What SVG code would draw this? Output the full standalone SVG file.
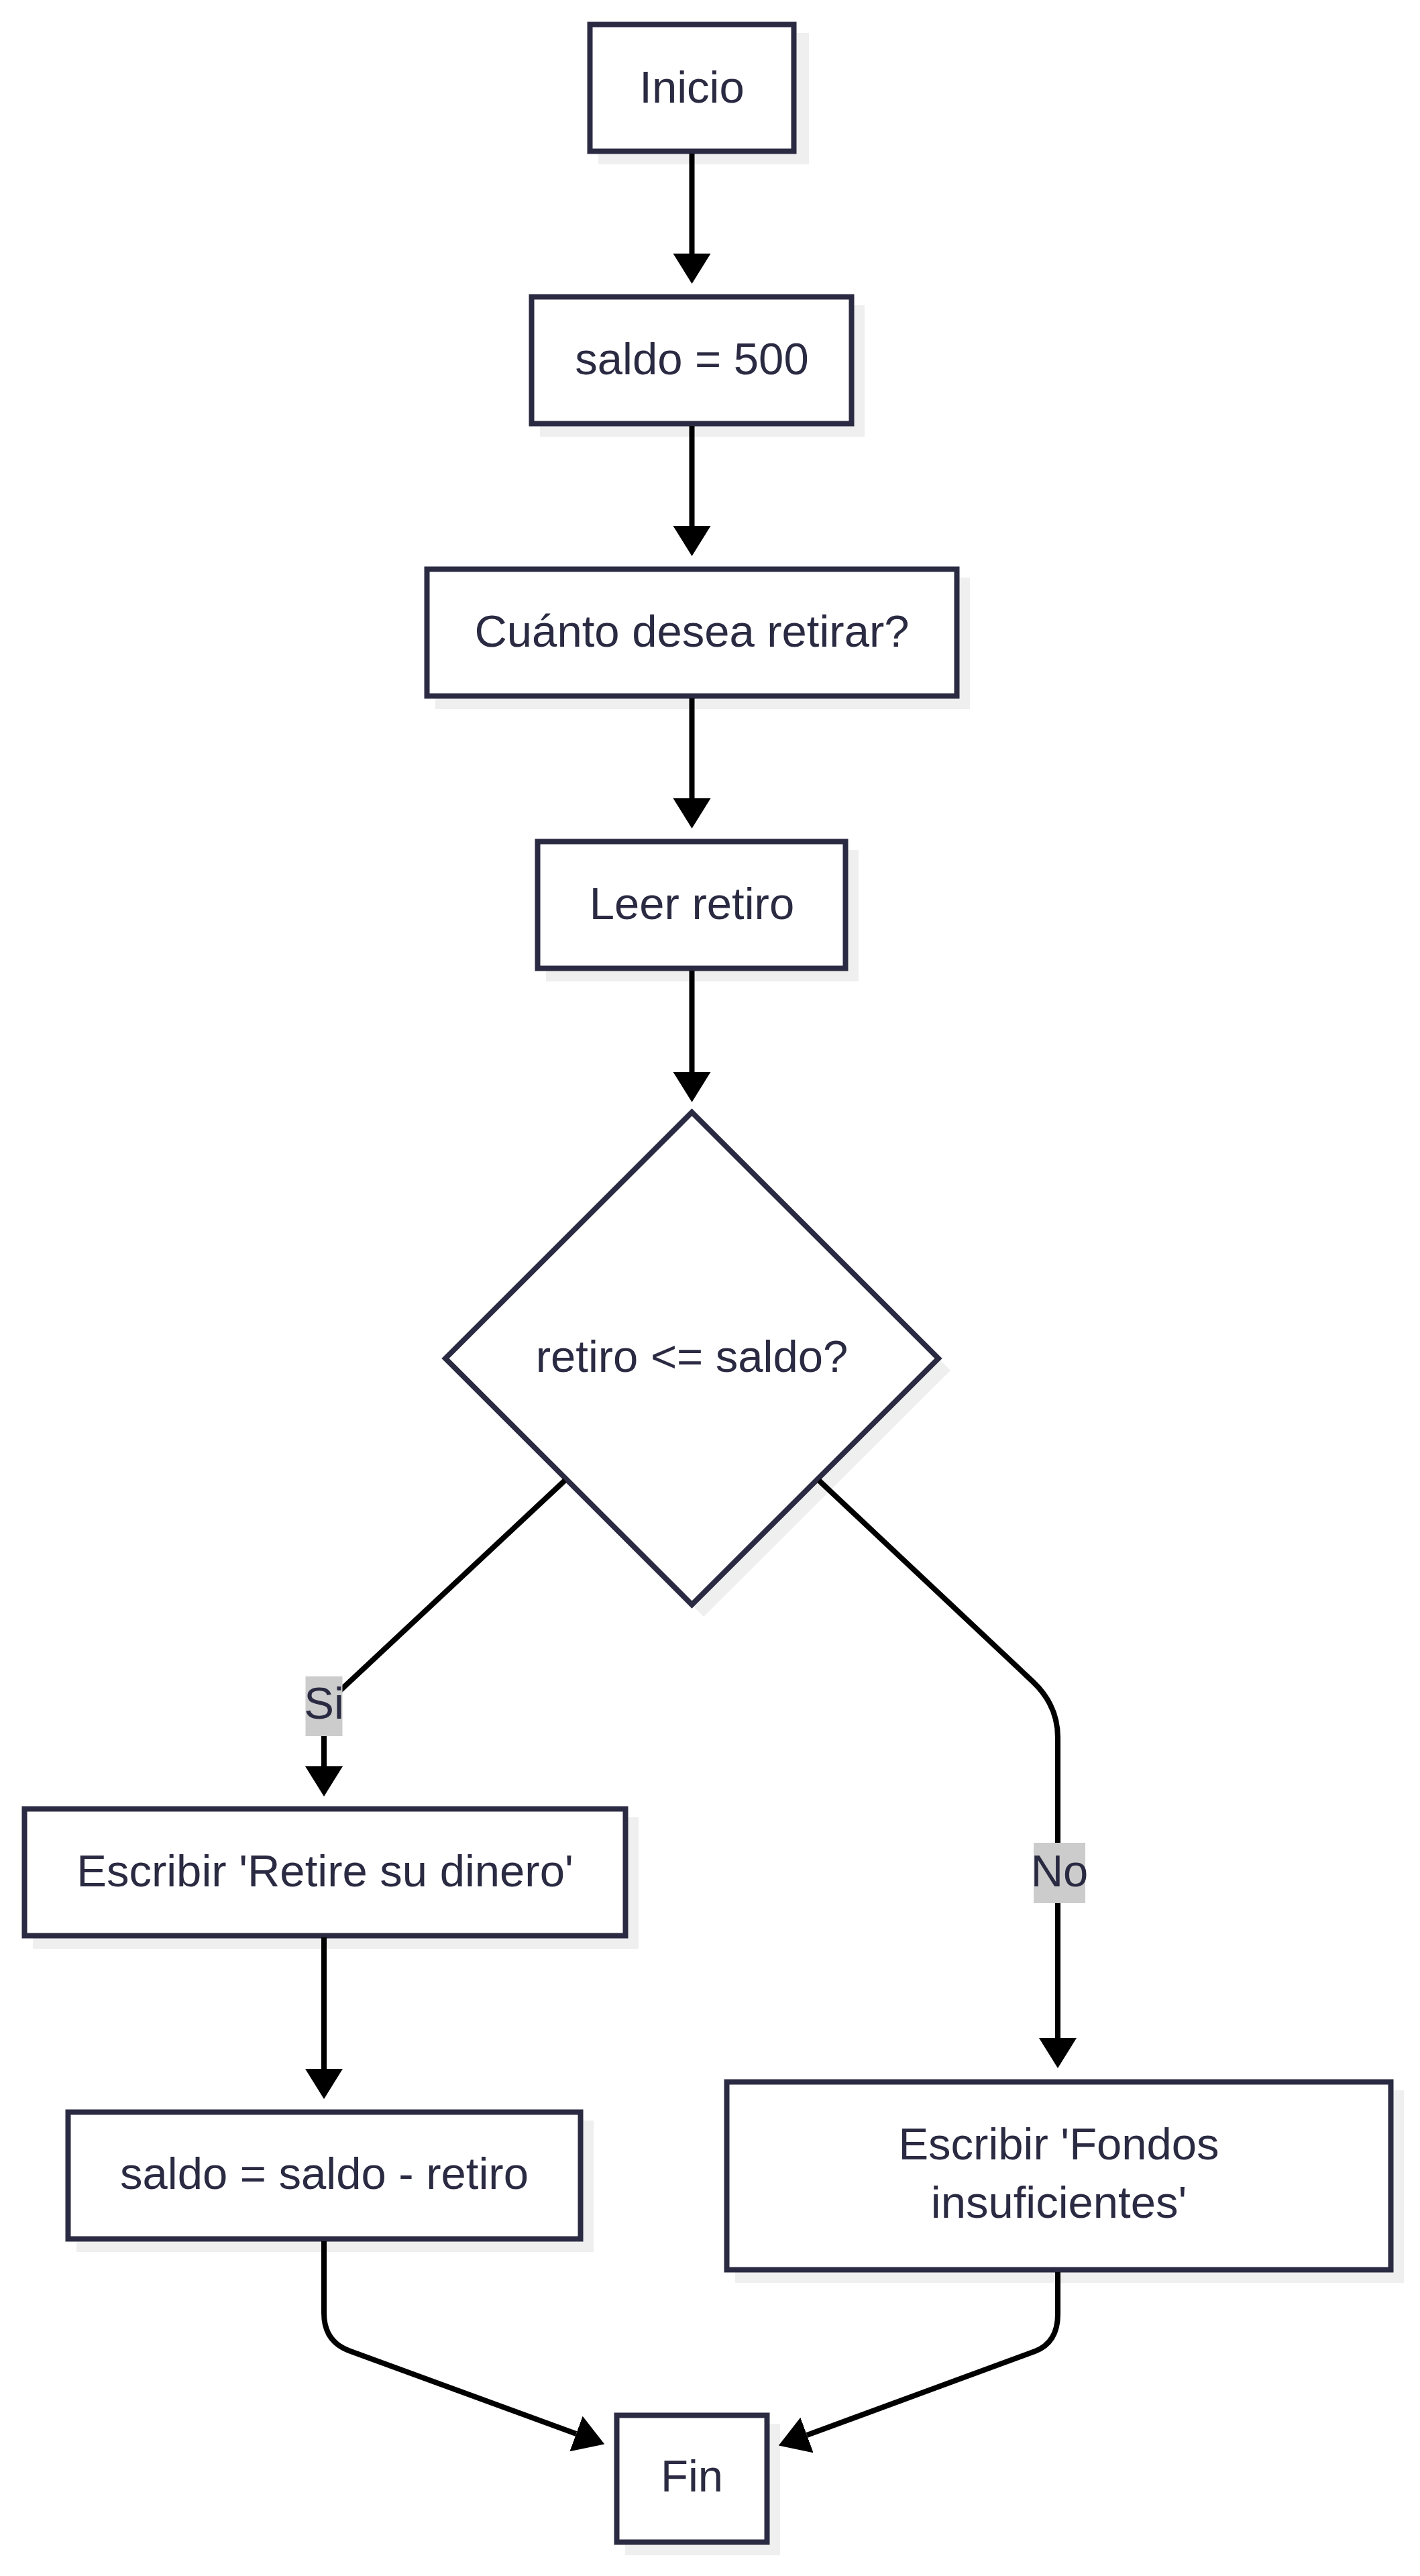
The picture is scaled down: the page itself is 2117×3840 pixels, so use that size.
<svg xmlns="http://www.w3.org/2000/svg" width="2117" height="3840" viewBox="0 0 2117 3840">
<style>
.box{fill:#ffffff;stroke:#2a2a42;stroke-width:8}
.shadow{fill:#efefef;stroke:none}
.txt{font-family:"Liberation Sans",Arial,sans-serif;font-size:67px;fill:#2a2a42;text-anchor:middle}
.edge{fill:none;stroke:#000000;stroke-width:8;marker-end:url(#arrow)}
.lblbg{fill:#cccccc}
</style>
<defs>
<marker id="arrow" markerUnits="userSpaceOnUse" markerWidth="48" markerHeight="58" refX="0" refY="28" orient="auto">
<path d="M0,0 L45,28 L0,56 Z" fill="#000000"/>
</marker>
</defs>
<rect width="2117" height="3840" fill="#ffffff"/>

<g id="node-inicio">
<rect class="shadow" x="892" y="49" width="314" height="196"/>
<rect class="box" x="879.5" y="36.5" width="304" height="189"/>
<text class="txt" x="1031.5" y="153">Inicio</text>
</g>

<g id="node-saldo500">
<rect class="shadow" x="805" y="455" width="484" height="196"/>
<rect class="box" x="792.5" y="442.5" width="477" height="189"/>
<text class="txt" x="1031.5" y="558">saldo = 500</text>
</g>

<g id="node-cuanto">
<rect class="shadow" x="649" y="861" width="797" height="196"/>
<rect class="box" x="636.5" y="848.5" width="790" height="189"/>
<text class="txt" x="1031.5" y="964">Cuánto desea retirar?</text>
</g>

<g id="node-leer">
<rect class="shadow" x="814" y="1267" width="466" height="196"/>
<rect class="box" x="801.5" y="1254.5" width="459" height="189"/>
<text class="txt" x="1031.5" y="1370">Leer retiro</text>
</g>

<g id="node-decision">
<polygon class="shadow" points="1049,1676 1417,2043 1049,2410 681,2043"/>
<polygon class="box" points="1031.5,1658 1399,2025 1031.5,2392 664,2025"/>
<text class="txt" x="1031.5" y="2045">retiro &lt;= saldo?</text>
</g>

<g id="node-retire">
<rect class="shadow" x="49" y="2709" width="903" height="196"/>
<rect class="box" x="36.5" y="2696.5" width="896" height="189"/>
<text class="txt" x="484.5" y="2812">Escribir 'Retire su dinero'</text>
</g>

<g id="node-resta">
<rect class="shadow" x="114" y="3161" width="771" height="196"/>
<rect class="box" x="101.5" y="3148.5" width="764" height="189"/>
<text class="txt" x="483.5" y="3263">saldo = saldo - retiro</text>
</g>

<g id="node-fondos">
<rect class="shadow" x="1096" y="3116" width="997" height="287"/>
<rect class="box" x="1083.5" y="3103.5" width="990" height="280"/>
<text class="txt" x="1578.5" y="3219">Escribir 'Fondos</text>
<text class="txt" x="1578.5" y="3306">insuficientes'</text>
</g>

<g id="node-fin">
<rect class="shadow" x="932" y="3613" width="231" height="196"/>
<rect class="box" x="919.5" y="3600.5" width="224" height="189"/>
<text class="txt" x="1031.5" y="3714">Fin</text>
</g>

<g id="connectors">
<path class="edge" d="M1031.5,229 L1031.5,378"/>
<path class="edge" d="M1031.5,635 L1031.5,784"/>
<path class="edge" d="M1031.5,1041 L1031.5,1190"/>
<path class="edge" d="M1031.5,1447 L1031.5,1598"/>
<path class="edge" d="M842,2207 L505,2522 Q483,2542.5 483,2570 L483,2633"/>
<path class="edge" d="M1221,2207 L1540,2507 Q1577,2542 1577,2590 L1577,3038"/>
<path class="edge" d="M483,2888 L483,3084"/>
<path class="edge" d="M483,3341 L483,3448 Q483,3490 520,3504 L859,3628"/>
<path class="edge" d="M1577,3387 L1577,3450 Q1577,3492 1543,3505 L1203,3630"/>
</g>

<g id="label-si">
<rect class="lblbg" x="455.5" y="2499" width="55" height="89"/>
<text class="txt" x="483" y="2562">Si</text>
</g>

<g id="label-no">
<rect class="lblbg" x="1541" y="2747" width="77" height="90"/>
<text class="txt" x="1579.5" y="2812">No</text>
</g>
</svg>
